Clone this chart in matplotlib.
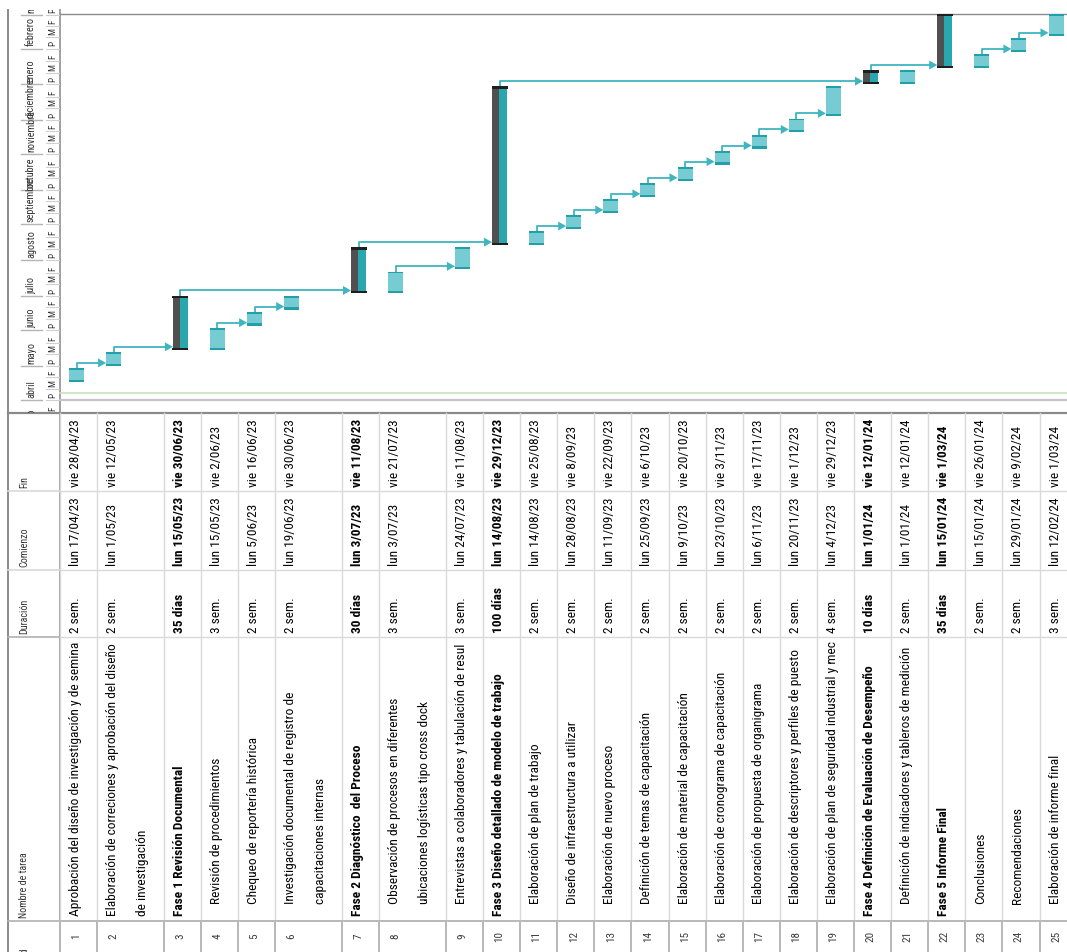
import datetime as dt
import matplotlib
matplotlib.use("Agg")
import matplotlib.pyplot as plt
import matplotlib.dates as mdates
from matplotlib.patches import Rectangle, Polygon
from matplotlib import font_manager as fm

# ---------------- data ----------------
ids = list(range(1, 26))
task_names = [
    "Aprobación del diseño de investigación y de semina",
    "Elaboración de correciones y aprobación del diseño\nde investigación",
    "Fase 1 Revisión Documental",
    "Revisión de procedimientos",
    "Chequeo de reportería histórica",
    "Investigación documental de registro de\ncapacitaciones internas",
    "Fase 2 Diagnóstico  del Proceso",
    "Observación de procesos en diferentes\nubicaciones logísticas tipo cross dock",
    "Entrevistas a colaboradores y tabulación de resul",
    "Fase 3 Diseño detallado de modelo de trabajo",
    "Elaboración de plan de trabajo",
    "Diseño de infraestructura a utilizar",
    "Elaboración de nuevo proceso",
    "Definición de temas de capacitación",
    "Elaboración de material de capacitación",
    "Elaboración de cronograma de capacitación",
    "Elaboración de propuesta de organigrama",
    "Elaboración de descriptores y perfiles de puesto",
    "Elaboración de plan de seguridad industrial y mec",
    "Fase 4 Definición de Evaluación de Desempeño",
    "Definición de indicadores y tableros de medición",
    "Fase 5 Informe Final",
    "Conclusiones",
    "Recomendaciones",
    "Elaboración de informe final",
]
durations = ["2 sem.", "2 sem.", "35 días", "3 sem.", "2 sem.", "2 sem.", "30 días",
             "3 sem.", "3 sem.", "100 días", "2 sem.", "2 sem.", "2 sem.", "2 sem.",
             "2 sem.", "2 sem.", "2 sem.", "2 sem.", "4 sem.", "10 días", "2 sem.",
             "35 días", "2 sem.", "2 sem.", "3 sem."]
start_dates = ["2023-04-17", "2023-05-01", "2023-05-15", "2023-05-15", "2023-06-05",
               "2023-06-19", "2023-07-03", "2023-07-03", "2023-07-24", "2023-08-14",
               "2023-08-14", "2023-08-28", "2023-09-11", "2023-09-25", "2023-10-09",
               "2023-10-23", "2023-11-06", "2023-11-20", "2023-12-04", "2024-01-01",
               "2024-01-01", "2024-01-15", "2024-01-15", "2024-01-29", "2024-02-12"]
end_dates = ["2023-04-28", "2023-05-12", "2023-06-30", "2023-06-02", "2023-06-16",
             "2023-06-30", "2023-08-11", "2023-07-21", "2023-08-11", "2023-12-29",
             "2023-08-25", "2023-09-08", "2023-09-22", "2023-10-06", "2023-10-20",
             "2023-11-03", "2023-11-17", "2023-12-01", "2023-12-29", "2024-01-12",
             "2024-01-12", "2024-03-01", "2024-01-26", "2024-02-09", "2024-03-01"]
summary_ids = [3, 7, 10, 20, 22]
outline_level = [1, 1, 1, 2, 2, 2, 1, 2, 2, 1, 2, 2, 2, 2, 2, 2, 2, 2, 2, 1, 2, 1, 2, 2, 2]
links = [(1, 2), (2, 3), (3, 7), (4, 5), (5, 6), (8, 9), (7, 10), (11, 12), (12, 13),
         (13, 14), (14, 15), (15, 16), (16, 17), (17, 18), (18, 19), (10, 20), (20, 22),
         (23, 24), (24, 25)]
headers = ["Id", "Nombre de tarea", "Duración", "Comienzo", "Fin"]
month_names = ["enero", "febrero", "marzo", "abril", "mayo", "junio", "julio", "agosto",
               "septiembre", "octubre", "noviembre", "diciembre"]
third_labels = ["P", "M", "F"]
weekday_abbr = ["lun", "mar", "mié", "jue", "vie", "sáb", "dom"]

# ---------------- fonts (prefer a narrow face) ----------------
entries = fm.fontManager.ttflist
names = {f.name for f in entries}
FAM, STRETCH = None, "normal"
for n in ("Liberation Sans Narrow", "Arial Narrow", "Roboto Condensed",
          "Noto Sans Condensed", "Open Sans Condensed", "DejaVu Sans Condensed"):
    if n in names:
        FAM = n
        break
if FAM is None:
    for n in ("Noto Sans", "DejaVu Sans", "Open Sans", "Roboto", "Inter", "Lato"):
        if any(f.name == n and str(f.stretch) in ("condensed", "semi-condensed", "extra-condensed")
               for f in entries):
            FAM, STRETCH = n, "condensed"
            break
if FAM is None:
    FAM = "Roboto" if "Roboto" in names else "DejaVu Sans"
plt.rcParams["font.family"] = [FAM, "DejaVu Sans"]
plt.rcParams["font.stretch"] = STRETCH

# ---------------- layout ----------------
W, H = 1067, 952
fig = plt.figure(figsize=(W / 100, H / 100), dpi=100)
fig.patch.set_facecolor("white")
renderer = fig.canvas.get_renderer()


def fit(s, target_px, **kw):
    t = fig.text(0, 0, s, fontsize=10, **kw)
    w = t.get_window_extent(renderer).width
    t.remove()
    return 10.0 * target_px / w


FS_BODY = 0.5 * (fit("Elaboración de cronograma de capacitación", 238)
                 + fit("lun 17/04/23", 66))
FS_HDR = fit("Duración", 35)
FS_MON = fit("febrero", 29)
FS_ID = FS_HDR * 1.12
FS_THIRD = FS_MON * 0.9


def frect(x0, y0, x1, y1):
    return [x0 / W, 1 - y1 / H, (x1 - x0) / W, (y1 - y0) / H]


ax_bg = fig.add_axes([0, 0, 1, 1])
ax_bg.set_xlim(0, W)
ax_bg.set_ylim(H, 0)
ax_bg.axis("off")

X_LEFT, X_BODY = 8, 60
Y_HDR_TOP, Y_CH_TOP, Y_TBL = 10, 14, 413
Y_FIN, Y_COM, Y_DUR, Y_NOM = 491, 570, 637, 921
ROW_H, LINE_PITCH = 37.1, 29.7
PX_PER_DAY = 1.15
BAR_W = 15.0

row_heights = [ROW_H + LINE_PITCH * n.count("\n") for n in task_names]
row_starts = []
acc = X_BODY
for h in row_heights:
    row_starts.append(acc)
    acc += h
row_bounds = row_starts + [acc]
row_cx = [s + 16.5 for s in row_starts]

to_date = lambda s: dt.datetime.strptime(s, "%Y-%m-%d")
start_num = [mdates.date2num(to_date(s)) for s in start_dates]
end_num = [mdates.date2num(to_date(s) + dt.timedelta(days=1)) for s in end_dates]

d_top = max(end_num)
d_bot = d_top - (Y_TBL - Y_CH_TOP) / PX_PER_DAY
px2d = lambda p: p / PX_PER_DAY

TXT = "#050505"
HDR_TXT = "#333333"
GRID = "#d9d9d9"

# ---------------- background lines ----------------
ax_bg.plot([X_LEFT, X_LEFT], [Y_HDR_TOP, H], color="#8a8a8a", lw=1.4)
ax_bg.plot([X_BODY, X_BODY], [Y_HDR_TOP, H], color="#a0a0a0", lw=1.4)
ax_bg.plot([X_BODY, W], [Y_CH_TOP, Y_CH_TOP], color="#8a8a8a", lw=1.0)
ax_bg.plot([X_BODY, W], [393, 393], color="#c6e2bd", lw=1.2)
ax_bg.plot([X_BODY, W], [400, 400], color="#c4c4c4", lw=1.6)
ax_bg.plot([X_LEFT, W], [Y_TBL, Y_TBL], color="#8a8a8a", lw=1.6)
for yy in (Y_FIN, Y_COM, Y_DUR, Y_NOM):
    ax_bg.plot([X_BODY, W], [yy, yy], color=GRID if yy != Y_NOM else "#b8b8b8",
               lw=1.0 if yy != Y_NOM else 1.4)
    ax_bg.plot([X_LEFT, X_BODY], [yy, yy],
               color="#b0b0b0" if yy in (Y_DUR, Y_NOM) else GRID, lw=1.2)
for xb in row_bounds:
    ax_bg.plot([xb, xb], [Y_TBL, Y_NOM], color=GRID, lw=1.0)
    ax_bg.plot([xb, xb], [Y_NOM, H], color="#b8b8b8", lw=1.4)

# ---------------- table header ----------------
hdr_pos = {"Id": H + 3, "Nombre de tarea": Y_NOM - 3, "Duración": Y_DUR - 3,
           "Comienzo": Y_COM - 3, "Fin": Y_FIN - 3}
for h in headers:
    ax_bg.text(24, hdr_pos[h], h, rotation=90, rotation_mode="anchor", ha="left",
               va="center", fontsize=FS_HDR, color=HDR_TXT)


def fmt_date(s):
    d = to_date(s)
    return f"{weekday_abbr[d.weekday()]} {d.day}/{d.month:02d}/{d.year % 100:02d}"


# ---------------- table cells ----------------
for i in range(len(ids)):
    xc = row_cx[i]
    bold = "bold" if ids[i] in summary_ids else "normal"
    ax_bg.text(xc, (Y_NOM + H) / 2, str(ids[i]), rotation=90, rotation_mode="anchor",
               ha="center", va="center", fontsize=FS_ID, color="#3c3c3c")
    clip = Rectangle((row_starts[i], Y_DUR), row_heights[i], Y_NOM - Y_DUR,
                     transform=ax_bg.transData)
    y0 = Y_NOM - 5 if outline_level[i] == 1 else Y_NOM - 17
    for k, line in enumerate(task_names[i].split("\n")):
        t = ax_bg.text(xc + LINE_PITCH * k - 1, y0, line, rotation=90,
                       rotation_mode="anchor", ha="left", va="center",
                       fontsize=FS_BODY, color=TXT, fontweight=bold, clip_on=True)
        t.set_clip_path(clip)
        t.set_clip_box(ax_bg.bbox)
    for ytxt, s in ((Y_DUR - 4, durations[i]), (Y_COM - 4, fmt_date(start_dates[i])),
                    (Y_FIN - 4, fmt_date(end_dates[i]))):
        ax_bg.text(xc - 1, ytxt, s, rotation=90, rotation_mode="anchor", ha="left",
                   va="center", fontsize=FS_BODY, color=TXT, fontweight=bold)

# ---------------- timescale header ----------------
ax_h = fig.add_axes(frect(X_LEFT, Y_HDR_TOP, X_BODY, Y_TBL))
ax_h.set_xlim(X_LEFT, X_BODY)
ax_h.set_ylim(d_bot, d_bot + (Y_TBL - Y_HDR_TOP) / PX_PER_DAY)
ax_h.axis("off")
m = mdates.num2date(d_bot).replace(day=1, hour=0, minute=0, second=0, microsecond=0,
                                   tzinfo=None)
last = mdates.num2date(ax_h.get_ylim()[1]).replace(tzinfo=None)
while m <= last:
    nxt = (m.replace(day=28) + dt.timedelta(days=4)).replace(day=1)
    y0, y1 = mdates.date2num(m), mdates.date2num(nxt)
    ax_h.plot([21, 42], [y0, y0], color="#b5b5b5", lw=1.0)
    t = ax_h.text(31, y0 + px2d(2), month_names[m.month - 1], rotation=90,
                  rotation_mode="anchor", ha="left", va="center", fontsize=FS_MON,
                  color=HDR_TXT, clip_on=True)
    t.set_clip_path(Rectangle((21, y0), 21, y1 - y0, transform=ax_h.transData))
    t.set_clip_box(ax_h.bbox)
    bounds = [mdates.date2num(m.replace(day=1)), mdates.date2num(m.replace(day=11)),
              mdates.date2num(m.replace(day=21)), y1]
    for j in range(3):
        ta, tb = bounds[j], bounds[j + 1]
        ax_h.plot([46, 59], [ta, ta], color="#d0d0d0", lw=0.8)
        t = ax_h.text(52.5, ta + px2d(2), third_labels[j], rotation=90,
                      rotation_mode="anchor", ha="left", va="center",
                      fontsize=FS_THIRD, color=HDR_TXT, clip_on=True)
        t.set_clip_path(Rectangle((44, ta), 16, tb - ta, transform=ax_h.transData))
        t.set_clip_box(ax_h.bbox)
    m = nxt

# ---------------- Gantt ----------------
ax_g = fig.add_axes(frect(X_BODY, Y_CH_TOP, W, Y_TBL))
ax_g.set_xlim(X_BODY, W)
ax_g.set_ylim(d_bot, d_top)
ax_g.axis("off")

FILL = "#77ccd4"
CAP = "#22a0aa"
SUM_GRAY = "#505050"
SUM_TEAL = "#2aa6af"
SUM_CAP = "#1f1f1f"
LINK = "#3fb5bf"

for p, s in links:
    pi, si = p - 1, s - 1
    xf, yf = row_cx[pi], end_num[pi]
    yl = start_num[si] + px2d(3)
    xt = row_cx[si] - BAR_W / 2
    ah_len, ah_half = 8, 4.5
    ax_g.plot([xf, xf, xt - ah_len + 1], [yf, yl, yl], color=LINK, lw=1.3,
              solid_joinstyle="round", solid_capstyle="butt")
    ax_g.add_patch(Polygon([[xt, yl], [xt - ah_len, yl + px2d(ah_half)],
                            [xt - ah_len, yl - px2d(ah_half)]], closed=True,
                           facecolor=LINK, edgecolor="none"))

cap_d = px2d(2.2)
for i in range(len(ids)):
    x, s, e = row_cx[i], start_num[i], end_num[i]
    if ids[i] in summary_ids:
        ax_g.bar(x - BAR_W / 2, e - s, bottom=s, width=BAR_W * 0.46, align="edge",
                 color=SUM_GRAY, linewidth=0)
        ax_g.bar(x - BAR_W / 2 + BAR_W * 0.46, e - s, bottom=s, width=BAR_W * 0.54,
                 align="edge", color=SUM_TEAL, linewidth=0)
        ax_g.bar(x, cap_d, bottom=s, width=BAR_W + 1, color=SUM_CAP, linewidth=0)
        ax_g.bar(x, cap_d, bottom=e - cap_d, width=BAR_W + 1, color=SUM_CAP, linewidth=0)
    else:
        ax_g.bar(x, e - s, bottom=s, width=BAR_W, color=FILL, linewidth=0)
        ax_g.bar(x, cap_d, bottom=s, width=BAR_W, color=CAP, linewidth=0)
        ax_g.bar(x, cap_d * 0.8, bottom=e - cap_d * 0.8, width=BAR_W, color=CAP,
                 linewidth=0)

fig.savefig("out.png", dpi=100, facecolor="white")
